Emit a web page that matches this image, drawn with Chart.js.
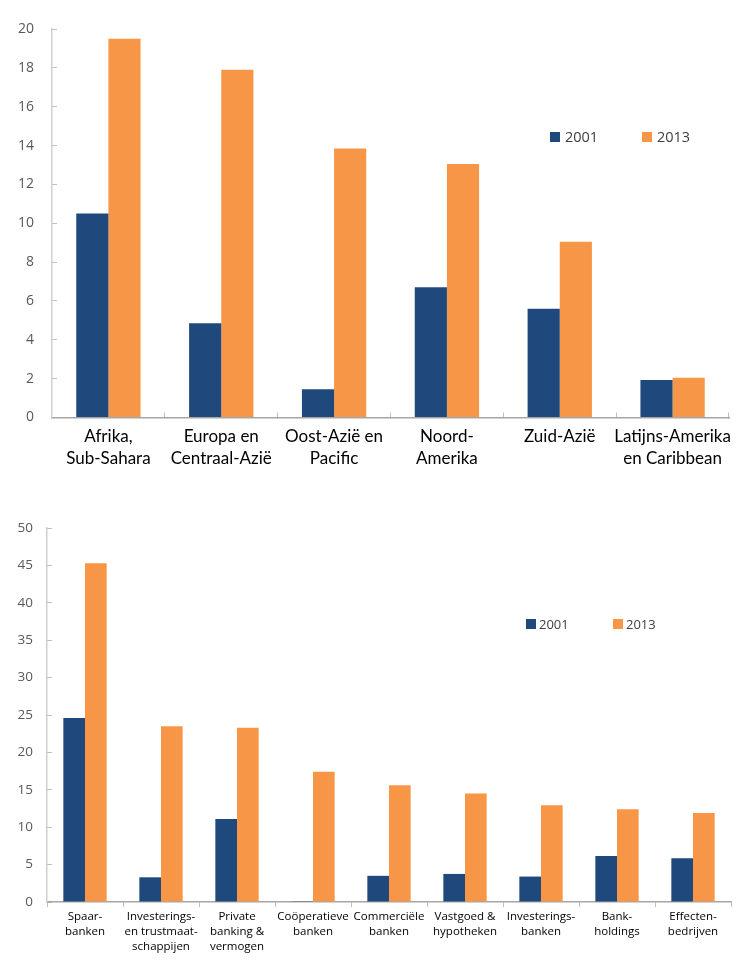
<!DOCTYPE html>
<html lang="nl">
<head>
<meta charset="UTF-8">
<title>2001 vs 2013</title>
<script src="https://cdn.jsdelivr.net/npm/chart.js@4.4.1/dist/chart.umd.min.js"></script>
<style>
  body { margin: 0; background: #fff; width: 749px; height: 962px; position: relative; overflow: hidden; }
  canvas { position: absolute; left: 0; }
  .legend { position: absolute; display: flex; font-family: 'Open Sans', sans-serif; color: #404040; }
  .legend .item { display: flex; align-items: center; }
  .legend .sw { display: inline-block; width: 10px; height: 10px; }
</style>
</head>
<body>
<canvas id="regio" width="749" height="490" style="top:0"></canvas>
<canvas id="sector" width="749" height="472" style="top:490px"></canvas>
<div id="legendTop" class="legend"></div>
<div id="legendBottom" class="legend"></div>

<script>
// reeksen
const seriesNames = ['2001', '2013'];
const seriesColors = ['#1F497D', '#F79646'];

// bovenste grafiek: regio's
const regionLabels = [
  ['Afrika,', 'Sub-Sahara'],
  ['Europa en', 'Centraal-Azië'],
  ['Oost-Azië en', 'Pacific'],
  ['Noord-', 'Amerika'],
  'Zuid-Azië',
  ['Latijns-Amerika', 'en Caribbean']
];
const region2001 = [10.5, 4.85, 1.45, 6.7, 5.6, 1.93];
const region2013 = [19.5, 17.9, 13.85, 13.05, 9.05, 2.05];

// onderste grafiek: type instelling
const sectorLabels = [
  ['Spaar-', 'banken'],
  ['Investerings-', 'en trustmaat-', 'schappijen'],
  ['Private', 'banking &', 'vermogen'],
  ['Coöperatieve', 'banken'],
  ['Commerciële', 'banken'],
  ['Vastgoed &', 'hypotheken'],
  ['Investerings-', 'banken'],
  ['Bank-', 'holdings'],
  ['Effecten-', 'bedrijven']
];
const sector2001 = [24.6, 3.3, 11.1, 0.1, 3.5, 3.75, 3.4, 6.15, 5.85];
const sector2013 = [45.3, 23.5, 23.3, 17.4, 15.6, 14.5, 12.95, 12.4, 11.9];

function drawChart(id, labels, s1, s2, cfg) {
  const ctx = document.getElementById(id).getContext('2d');
  return new Chart(ctx, {
    type: 'bar',
    data: {
      labels: labels,
      datasets: [s1, s2].map((d, i) => ({
        label: seriesNames[i],
        data: d,
        backgroundColor: seriesColors[i],
        categoryPercentage: 0.57,
        barPercentage: 1
      }))
    },
    options: {
      responsive: false,
      animation: false,
      layout: { padding: { top: cfg.padTop, right: cfg.padRight, left: 0, bottom: 0 } },
      plugins: { legend: { display: false }, tooltip: { enabled: false } },
      scales: {
        x: {
          grid: { drawOnChartArea: false, tickLength: cfg.xTick, color: '#BFBFBF' },
          border: { color: '#A6A6A6', width: 1.5 },
          ticks: {
            color: '#000',
            font: { family: cfg.xFont, size: cfg.xSize, lineHeight: cfg.xLine },
            padding: cfg.xPad,
            maxRotation: 0,
            autoSkip: false
          },
          afterFit: s => { s.height = cfg.xHeight; }
        },
        y: {
          min: 0,
          max: cfg.max,
          grid: { drawOnChartArea: false, tickLength: -5, color: '#BFBFBF' },
          border: { color: '#D0D0D0', width: 1.5 },
          ticks: {
            stepSize: cfg.step,
            color: '#595959',
            font: { family: 'Open Sans', size: cfg.ySize },
            padding: cfg.yPad
          },
          afterFit: s => {
            s.width = cfg.yWidth;
            s.paddingTop = 0;
            s.paddingBottom = 0;
          }
        }
      }
    }
  });
}

drawChart('regio', regionLabels, region2001, region2013, {
  max: 20, step: 2, padTop: 29, padRight: 20, yWidth: 52, xHeight: 72.5,
  xTick: -5, xFont: 'Lato', xSize: 17, xLine: 1.3, xPad: 13, ySize: 14, yPad: 23
});

drawChart('sector', sectorLabels, sector2001, sector2013, {
  max: 50, step: 5, padTop: 38, padRight: 18, yWidth: 47, xHeight: 60,
  xTick: 5, xFont: 'Open Sans', xSize: 11.5, xLine: 1.3, xPad: 2, ySize: 13.5, yPad: 19
});

function buildLegend(id, left, top, itemWidth, fontSize, gap) {
  const el = document.getElementById(id);
  el.style.left = left + 'px';
  el.style.top = top + 'px';
  el.style.fontSize = fontSize + 'px';
  seriesNames.forEach((name, i) => {
    const item = document.createElement('div');
    item.className = 'item';
    item.style.width = itemWidth + 'px';
    item.innerHTML = '<span class="sw" style="background:' + seriesColors[i] + ';margin-right:' + gap + 'px"></span>' + name;
    el.appendChild(item);
  });
}

buildLegend('legendTop', 550, 127, 92, 14.5, 5);
buildLegend('legendBottom', 526, 615, 87, 13, 3);
</script>
</body>
</html>
